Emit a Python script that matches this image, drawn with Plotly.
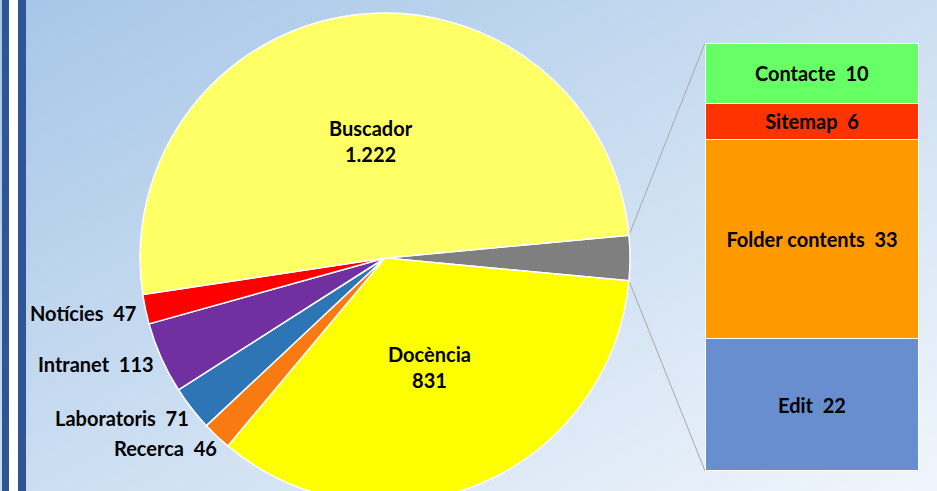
import math
import plotly.graph_objects as go

# ---------------- data ----------------
pie_labels = ["Altres", "Docència", "Recerca", "Laboratoris", "Intranet", "Notícies", "Buscador"]
pie_values = [71, 831, 46, 71, 113, 47, 1222]
pie_colors = ["#7f7f7f", "#ffff00", "#f97a10", "#2e75b6", "#7030a0", "#ff0000", "#ffff66"]

bar_labels = ["Edit", "Folder contents", "Sitemap", "Contacte"]
bar_values = [22, 33, 6, 10]
bar_colors = ["#698ed0", "#ff9900", "#ff3300", "#66ff66"]

# ---------------- layout constants (pixels) ----------------
W, H = 937, 504
CX, CY, R = 385, 258, 245          # pie centre / radius
BX0, BX1, BY0, BY1 = 705, 919, 43, 471   # bar-of-pie box
FONT = dict(family="Lato", size=20, color="black", weight="bold")

total = sum(pie_values)
other_deg = pie_values[0] / total * 360.0
rotation = 90 - other_deg / 2

fig = go.Figure()

# background gradient (heatmap on a pixel-space overlay axis)
fig.add_trace(go.Heatmap(
    x=[0, W], y=[0, H], z=[[0, 0.5], [0.5, 1]],
    zsmooth="best", showscale=False, hoverinfo="skip",
    colorscale=[[0, "#a6c6e7"], [1, "#f1f6fc"]],
    xaxis="x", yaxis="y"))

# connector lines from the grey slice to the stacked bar
half = math.radians(other_deg / 2)
p_top = (CX + R * math.cos(half), CY - R * math.sin(half))
p_bot = (CX + R * math.cos(half), CY + R * math.sin(half))
fig.add_trace(go.Scatter(
    x=[p_top[0], BX0, None, p_bot[0], BX0],
    y=[p_top[1], BY0, None, p_bot[1], BY1],
    mode="lines", line=dict(color="#a9a9a9", width=1),
    hoverinfo="skip", showlegend=False, xaxis="x", yaxis="y"))

# stacked bar (bar of pie)
for lab, val, col in zip(bar_labels, bar_values, bar_colors):
    fig.add_trace(go.Bar(
        x=[0], y=[val], name=lab, width=1,
        marker=dict(color=col, line=dict(color="white", width=1.5)),
        text=[f"{lab}\u00a0 {val}"], textposition="inside",
        insidetextanchor="middle", constraintext="none",
        textfont=FONT,
        xaxis="x2", yaxis="y2", showlegend=False, hoverinfo="skip"))

# pie labels placed from the slice angles
annotations = []
cum = 0.0
for lab, val in zip(pie_labels, pie_values):
    deg = val / total * 360.0
    mid = math.radians(rotation + cum + deg / 2)   # clockwise from 12 o'clock
    cum += deg
    ux, uy = math.sin(mid), -math.cos(mid)          # screen direction (y down)
    if lab == "Altres":
        continue
    if val > 500:
        rr = 0.48 * R
        annotations.append(dict(
            x=CX + rr * ux, y=CY + rr * uy, xref="x", yref="y",
            text=f"{lab}<br>{val:,}".replace(",", "."), showarrow=False,
            xanchor="center", yanchor="middle", font=FONT))
    else:
        rr = R + 8
        annotations.append(dict(
            x=CX + rr * ux, y=CY + rr * uy, xref="x", yref="y",
            text=f"{lab}\u00a0 {val}", showarrow=False,
            xanchor="right", yanchor="middle",
            xshift=14 * uy * uy, yshift=-8 * abs(uy), font=FONT))

fig.add_trace(go.Pie(
    labels=pie_labels, values=pie_values, sort=False,
    direction="clockwise", rotation=rotation,
    marker=dict(colors=pie_colors, line=dict(color="white", width=1.5)),
    textinfo="none",
    domain=dict(x=[(CX - R) / W, (CX + R) / W],
                y=[1 - (CY + R) / H, 1 - (CY - R) / H]),
    showlegend=False, hoverinfo="skip"))

fig.update_layout(
    width=W, height=H,
    margin=dict(l=0, r=0, t=0, b=0),
    paper_bgcolor="#d5e4f3", plot_bgcolor="rgba(0,0,0,0)",
    separators=",.",
    barmode="stack",
    annotations=annotations,
    xaxis=dict(domain=[0, 1], range=[0, W], visible=False, fixedrange=True),
    yaxis=dict(domain=[0, 1], range=[H, 0], visible=False, fixedrange=True),
    xaxis2=dict(domain=[BX0 / W, BX1 / W], range=[-0.5, 0.5], visible=False,
                anchor="y2"),
    yaxis2=dict(domain=[1 - BY1 / H, 1 - BY0 / H], range=[0, sum(bar_values)],
                visible=False, anchor="x2"),
    shapes=[
        dict(type="rect", xref="paper", yref="paper", layer="above",
             x0=2 / W, x1=9 / W, y0=0, y1=1, fillcolor="#2f5597", line_width=0),
        dict(type="rect", xref="paper", yref="paper", layer="above",
             x0=9 / W, x1=18 / W, y0=0, y1=1, fillcolor="white", line_width=0),
        dict(type="rect", xref="paper", yref="paper", layer="above",
             x0=18 / W, x1=26 / W, y0=0, y1=1, fillcolor="#2f5597", line_width=0),
    ],
)

fig.write_html(
    "out.html", config={"displayModeBar": False},
    post_script="document.body.style.margin='0';"
                "document.documentElement.style.overflow='hidden';"
                "document.body.style.overflow='hidden';")
